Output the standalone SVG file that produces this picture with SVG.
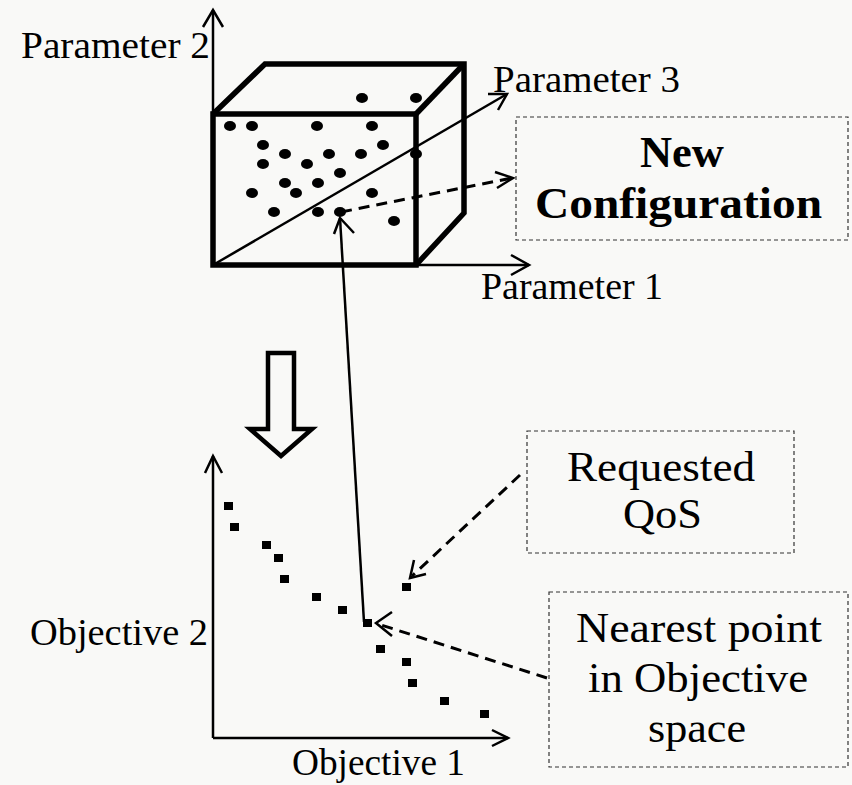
<svg xmlns="http://www.w3.org/2000/svg" width="852" height="785" viewBox="0 0 852 785">
<defs>
<style>
.t{font-family:"Liberation Serif","Times New Roman",serif;font-size:38px;fill:#000}
.l{font-size:42px}
.b{font-weight:bold;font-size:44px}
.ax{stroke:#000;stroke-width:2.5;fill:none}
.cube{stroke:#000;stroke-width:5.5;fill:none;stroke-linejoin:miter}
.box{stroke:#333;stroke-width:1.2;fill:none;stroke-dasharray:4,3}
.dl{stroke:#000;stroke-width:3;fill:none;stroke-dasharray:11,7}
.ah{stroke:#000;stroke-width:2.5;fill:none}
</style>
</defs>
<rect width="852" height="785" fill="#f9f9f7"/>
<g id="cube">
<polyline class="cube" points="213,114 265,64 464,64 464,213 416,265"/>
<line class="cube" x1="416" y1="114" x2="464" y2="64"/>
<rect class="cube" x="213" y="114" width="203" height="151"/>
<g fill="#000">
<ellipse cx="362" cy="98" rx="6" ry="5"/><ellipse cx="416" cy="98" rx="6" ry="5"/>
<ellipse cx="230" cy="126" rx="6" ry="5"/><ellipse cx="252" cy="126" rx="6" ry="5"/><ellipse cx="317" cy="126" rx="6" ry="5"/><ellipse cx="372" cy="126" rx="6" ry="5"/>
<ellipse cx="263" cy="145" rx="6" ry="5"/><ellipse cx="383" cy="145" rx="6" ry="5"/>
<ellipse cx="285" cy="154" rx="6" ry="5"/><ellipse cx="329" cy="154" rx="6" ry="5"/><ellipse cx="361" cy="154" rx="6" ry="5"/><ellipse cx="416" cy="154" rx="6" ry="5"/>
<ellipse cx="263" cy="164" rx="6" ry="5"/><ellipse cx="307" cy="164" rx="6" ry="5"/>
<ellipse cx="340" cy="173" rx="6" ry="5"/>
<ellipse cx="285" cy="183" rx="6" ry="5"/><ellipse cx="318" cy="183" rx="6" ry="5"/>
<ellipse cx="252" cy="193" rx="6" ry="5"/><ellipse cx="296" cy="193" rx="6" ry="5"/><ellipse cx="372" cy="193" rx="6" ry="5"/>
<ellipse cx="274" cy="212" rx="6" ry="5"/><ellipse cx="318" cy="212" rx="6" ry="5"/><ellipse cx="340" cy="212" rx="6" ry="5"/>
<ellipse cx="394" cy="221" rx="6" ry="5"/>
</g>
</g>
<g id="param-axes">
<line class="ax" x1="213" y1="265" x2="213" y2="10"/>
<polyline class="ah" points="203,27 213,10 223,27"/>
<line class="ax" x1="416" y1="265" x2="529" y2="265"/>
<polyline class="ah" points="511,255 529,265 511,275"/>
<line class="ax" x1="213" y1="265" x2="507" y2="94"/>
<polyline class="ah" points="488,94 507,94 498,110"/>
<text class="t" x="21" y="58" textLength="189" lengthAdjust="spacingAndGlyphs">Parameter 2</text>
<text class="t" x="493" y="92" textLength="187" lengthAdjust="spacingAndGlyphs">Parameter 3</text>
<text class="t" x="481" y="299" textLength="182" lengthAdjust="spacingAndGlyphs">Parameter 1</text>
</g>
<g id="new-config">
<rect class="box" x="516" y="117" width="332" height="123"/>
<text class="t b" x="640" y="167" textLength="84" lengthAdjust="spacingAndGlyphs">New</text>
<text class="t b" x="535" y="218" textLength="287" lengthAdjust="spacingAndGlyphs">Configuration</text>
</g>
<g id="down-arrow">
<polygon points="268,353 294,353 294,429 312,429 281,456 250,429 268,429" fill="none" stroke="#000" stroke-width="4.5"/>
</g>
<g id="objective-axes">
<line class="ax" x1="213" y1="738" x2="213" y2="456"/>
<polyline class="ah" points="205,473 213,456 222,473"/>
<line class="ax" x1="213" y1="738" x2="508" y2="738"/>
<polyline class="ah" points="492,730 508,738 492,746"/>
<text class="t" x="30" y="645" textLength="178" lengthAdjust="spacingAndGlyphs">Objective 2</text>
<text class="t" x="292" y="775" textLength="173" lengthAdjust="spacingAndGlyphs">Objective 1</text>
</g>
<g id="pareto" fill="#000">
<rect x="224" y="502" width="9" height="8"/><rect x="230" y="523" width="9" height="8"/>
<rect x="262" y="541" width="9" height="8"/><rect x="274" y="554" width="9" height="8"/>
<rect x="280" y="575" width="9" height="8"/><rect x="312" y="593" width="9" height="8"/>
<rect x="338" y="606" width="9" height="8"/><rect x="363" y="619" width="9" height="8"/>
<rect x="376" y="645" width="9" height="8"/><rect x="402" y="658" width="9" height="8"/>
<rect x="408" y="679" width="9" height="8"/><rect x="440" y="697" width="9" height="8"/>
<rect x="480" y="710" width="9" height="8"/>
<rect id="qos-point" x="402" y="583" width="9" height="8"/>
</g>
<g id="qos">
<rect class="box" x="527" y="431" width="267" height="122"/>
<text class="t l" x="567" y="481" textLength="188" lengthAdjust="spacingAndGlyphs">Requested</text>
<text class="t l" x="623" y="528" textLength="79" lengthAdjust="spacingAndGlyphs">QoS</text>
</g>
<g id="nearest">
<rect class="box" x="549" y="592" width="299" height="175"/>
<text class="t l" x="576" y="642" textLength="246" lengthAdjust="spacingAndGlyphs">Nearest point</text>
<text class="t l" x="588" y="692" textLength="220" lengthAdjust="spacingAndGlyphs">in Objective</text>
<text class="t l" x="648" y="742" textLength="98" lengthAdjust="spacingAndGlyphs">space</text>
</g>
<g id="connectors">
<line class="dl" x1="341" y1="212" x2="512" y2="178"/>
<polyline class="ah" points="495,172 513,178 497,188"/>
<line class="ax" x1="364" y1="622" x2="340" y2="218"/>
<polyline class="ah" points="334,234 340,218 354,233"/>
<line class="dl" x1="520" y1="475" x2="412" y2="576"/>
<polyline class="ah" points="414,560 410,578 426,574"/>
<line class="dl" x1="547" y1="678" x2="378" y2="624"/>
<polyline class="ah" points="392,612 376,623 392,636"/>
</g>
</svg>
